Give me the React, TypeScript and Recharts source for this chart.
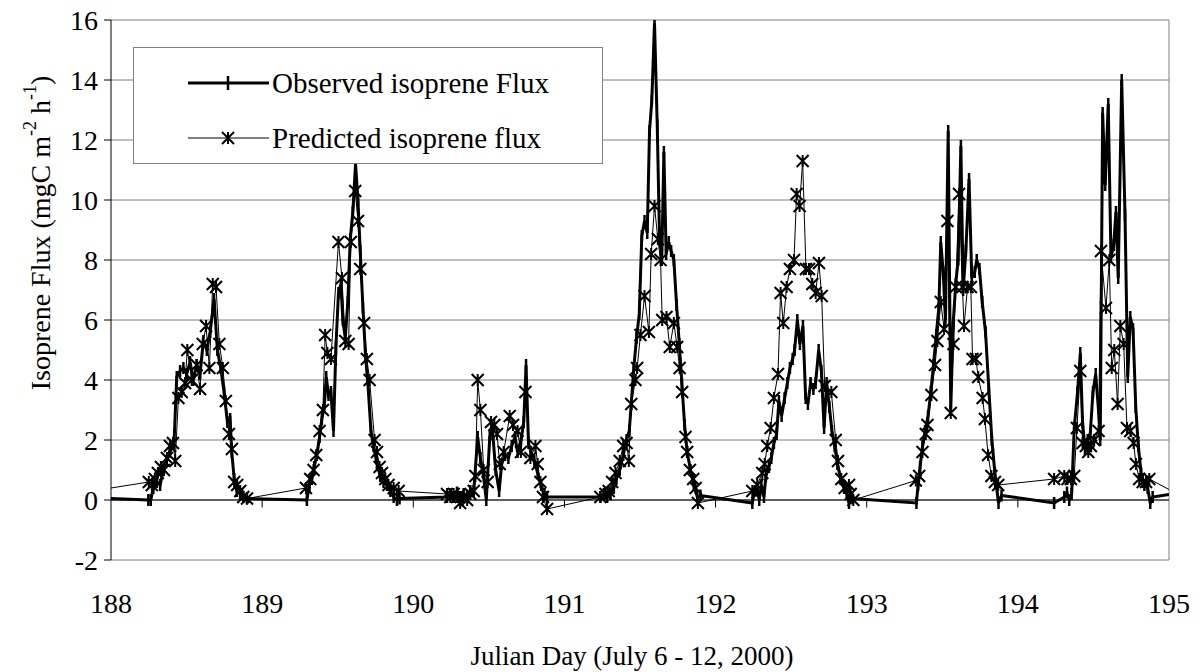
import React from 'react';
import { LineChart, Line, XAxis, YAxis, CartesianGrid, ReferenceLine } from 'recharts';

const obsDay = [
    188.0, 188.247, 188.263, 188.28, 188.303, 188.325, 188.347, 188.369, 188.39, 188.417, 188.435, 188.457, 188.479,
    188.501, 188.523, 188.545, 188.567, 188.589, 188.611, 188.634, 188.656, 188.682, 188.704, 188.726, 188.748, 188.77,
    188.788, 188.799, 188.815, 188.832, 188.854, 188.876, 188.899,
    189.296, 189.313, 189.329, 189.344, 189.362, 189.38, 189.395, 189.411, 189.424, 189.439, 189.455, 189.472, 189.488,
    189.505, 189.521, 189.534, 189.55, 189.567, 189.583, 189.6, 189.618, 189.634, 189.649, 189.667, 189.684, 189.702,
    189.72, 189.737, 189.76, 189.781, 189.803, 189.826, 189.848, 189.87, 189.892, 189.909,
    190.223, 190.245, 190.267, 190.289, 190.311, 190.333, 190.356, 190.377, 190.4, 190.426, 190.444, 190.462, 190.483,
    190.506, 190.523, 190.545, 190.568, 190.585, 190.607, 190.629, 190.651, 190.673, 190.69, 190.713, 190.731, 190.746,
    190.762, 190.779, 190.801, 190.823, 190.846, 190.868, 190.885,
    191.238, 191.26, 191.283, 191.305, 191.327, 191.344, 191.366, 191.389, 191.411, 191.429, 191.442, 191.459, 191.477,
    191.495, 191.512, 191.53, 191.548, 191.563, 191.578, 191.596, 191.614, 191.629, 191.644, 191.658, 191.673, 191.69,
    191.706, 191.724, 191.742, 191.76, 191.777, 191.795, 191.812, 191.834, 191.856, 191.879, 191.9,
    192.243, 192.258, 192.276, 192.289, 192.303, 192.32, 192.333, 192.353, 192.369, 192.386, 192.404, 192.419, 192.437,
    192.457, 192.475, 192.492, 192.51, 192.523, 192.541, 192.558, 192.578, 192.596, 192.611, 192.629, 192.647, 192.662,
    192.682, 192.7, 192.718, 192.735, 192.753, 192.77, 192.788, 192.806, 192.828, 192.85, 192.868, 192.883, 192.905,
    193.329, 193.34, 193.353, 193.369, 193.386, 193.406, 193.424, 193.442, 193.46, 193.477, 193.49, 193.506, 193.521,
    193.539, 193.556, 193.572, 193.589, 193.605, 193.623, 193.638, 193.656, 193.677, 193.695, 193.715, 193.728, 193.746,
    193.764, 193.786, 193.808, 193.828, 193.848, 193.872, 193.892,
    194.24, 194.307, 194.325, 194.34, 194.356, 194.373, 194.395, 194.413, 194.428, 194.444, 194.462, 194.479, 194.497,
    194.515, 194.532, 194.545, 194.561, 194.578, 194.598, 194.616, 194.634, 194.649, 194.664, 194.687, 194.709, 194.727,
    194.744, 194.762, 194.78, 194.797, 194.815, 194.837, 194.859, 194.876, 194.892, 195.0,
];
const obsFlux = [
    0.05, 0.0, 0.0, 0.4, 0.6, 0.5, 1.0, 1.3, 1.6, 1.9, 4.1, 4.3, 4.4,
    4.2, 4.6, 4.0, 4.5, 4.2, 5.3, 5.0, 5.6, 6.7, 5.0, 4.4, 3.6, 2.6,
    2.7, 1.6, 0.7, 0.3, 0.2, 0.1, 0.05,
    0.0, 0.5, 0.7, 1.1, 1.5, 2.1, 2.7, 3.1, 4.1, 3.5, 3.6, 2.3, 5.1,
    6.9, 7.2, 6.0, 5.4, 6.6, 8.7, 9.6, 11.2, 10.0, 8.3, 6.4, 4.8, 3.7,
    2.3, 1.8, 1.2, 0.8, 0.6, 0.5, 0.3, 0.1, 0.0, 0.05,
    0.1, 0.2, 0.1, 0.25, 0.1, 0.2, 0.15, 0.3, 0.3, 2.1, 1.4, 0.9, 0.0,
    2.1, 2.4, 1.0, 0.3, 1.2, 1.5, 1.4, 1.8, 2.1, 1.6, 2.0, 2.6, 4.5,
    1.9, 1.6, 1.3, 0.9, 0.5, 0.2, 0.1,
    0.1, 0.2, 0.1, 0.2, 0.4, 0.7, 1.0, 1.5, 2.0, 2.3, 3.2, 4.4, 5.4,
    6.2, 8.8, 9.3, 8.9, 12.3, 13.3, 15.9, 12.5, 8.8, 8.0, 11.6, 8.2, 8.6,
    8.3, 8.0, 6.5, 5.2, 3.9, 2.5, 1.6, 1.0, 0.5, 0.1, 0.15,
    -0.1, 0.3, 0.4, 0.0, 0.5, 0.1, 0.8, 1.1, 1.4, 1.9, 2.2, 3.3, 2.8,
    3.4, 3.9, 4.4, 4.7, 5.0, 6.0, 5.2, 5.8, 3.4, 3.2, 3.9, 3.7, 3.9,
    5.0, 4.3, 2.4, 3.9, 3.1, 2.3, 1.8, 1.2, 0.7, 0.4, 0.2, -0.1, 0.05,
    -0.1, 0.5, 1.1, 1.8, 2.3, 2.8, 3.6, 4.5, 5.5, 6.4, 8.6, 7.6, 6.0,
    12.3, 3.0, 5.9, 7.2, 8.0, 11.8, 7.0, 8.3, 10.7, 7.4, 7.6, 8.0, 7.7,
    6.6, 5.6, 3.7, 2.0, 0.9, -0.1, 0.15,
    -0.1, 0.1, 0.25, 0.0, 0.2, 2.4, 3.6, 4.9, 2.6, 1.7, 2.0, 2.2, 3.6,
    4.2, 3.1, 2.0, 12.9, 10.5, 13.2, 8.1, 8.5, 9.6, 7.4, 14.0, 9.5, 4.1,
    6.1, 5.7, 3.1, 1.8, 0.9, 0.5, 0.4, -0.1, 0.1, 0.18,
];

const predDay = [
    188.0, 188.25, 188.27, 188.29, 188.31, 188.33, 188.35, 188.37, 188.39, 188.41, 188.425, 188.446, 188.468,
    188.49, 188.505, 188.534, 188.567, 188.589, 188.607, 188.629, 188.651, 188.673, 188.695, 188.717, 188.74, 188.76,
    188.78, 188.8, 188.815, 188.835, 188.855, 188.875, 188.9,
    189.29, 189.318, 189.34, 189.358, 189.38, 189.402, 189.417, 189.432, 189.455, 189.505, 189.528, 189.55, 189.572,
    189.587, 189.616, 189.634, 189.649, 189.675, 189.693, 189.711, 189.744, 189.76, 189.777, 189.793, 189.815, 189.836,
    189.87, 189.903,
    190.223, 190.245, 190.267, 190.29, 190.31, 190.333, 190.356, 190.378, 190.4, 190.411, 190.426, 190.444, 190.466,
    190.492, 190.514, 190.536, 190.554, 190.572, 190.598, 190.638, 190.66, 190.69, 190.712, 190.742, 190.775, 190.808,
    190.823, 190.841, 190.858, 190.885,
    191.238, 191.272, 191.293, 191.316, 191.338, 191.366, 191.389, 191.411, 191.426, 191.442, 191.47, 191.481, 191.503,
    191.53, 191.559, 191.574, 191.596, 191.618, 191.636, 191.647, 191.675, 191.697, 191.724, 191.746, 191.762, 191.779,
    191.801, 191.812, 191.83, 191.852, 191.868, 191.883,
    192.243, 192.276, 192.309, 192.325, 192.342, 192.364, 192.386, 192.413, 192.43, 192.448, 192.47, 192.492, 192.519,
    192.536, 192.556, 192.576, 192.598, 192.618, 192.64, 192.662, 192.684, 192.702, 192.722, 192.766, 192.795, 192.81,
    192.832, 192.854, 192.883, 192.894, 192.912,
    193.325, 193.347, 193.369, 193.391, 193.402, 193.428, 193.452, 193.468, 193.49, 193.512, 193.534, 193.556, 193.574,
    193.589, 193.611, 193.633, 193.644, 193.667, 193.689, 193.7, 193.722, 193.738, 193.767, 193.782, 193.803, 193.825,
    193.848, 193.87,
    194.24, 194.307, 194.329, 194.351, 194.373, 194.391, 194.413, 194.428, 194.45, 194.466, 194.483, 194.505, 194.534,
    194.55, 194.583, 194.605, 194.621, 194.638, 194.66, 194.678, 194.7, 194.722, 194.744, 194.766, 194.781, 194.803,
    194.826, 194.848, 194.87, 195.0,
];
const predFlux = [
    0.4, 0.6, 0.5, 0.7, 0.9, 1.1, 1.0, 1.4, 1.8, 1.9, 1.3, 3.4, 3.6,
    3.9, 5.0, 4.0, 4.5, 3.7, 5.2, 5.8, 4.4, 7.2, 7.1, 5.2, 4.4, 3.3,
    2.2, 1.7, 0.6, 0.5, 0.3, 0.1, 0.05,
    0.4, 0.7, 1.0, 1.5, 2.3, 3.0, 5.5, 4.9, 4.7, 8.6, 7.4, 5.3, 5.2,
    8.6, 10.3, 9.3, 7.7, 5.9, 4.7, 4.0, 2.0, 1.6, 1.1, 0.9, 0.7, 0.5,
    0.4, 0.3,
    0.2, 0.1, 0.2, 0.1, -0.1, 0.1, 0.0, 0.2, 0.3, 0.8, 4.0, 3.0, 1.0,
    0.6, 2.6, 2.5, 2.2, 1.2, 1.6, 2.8, 2.5, 2.3, 1.6, 3.6, 1.4, 1.8,
    1.2, 0.6, 0.1, -0.3,
    0.1, 0.2, 0.3, 0.6, 0.9, 1.3, 1.8, 1.9, 1.3, 3.2, 4.0, 4.4, 5.5,
    6.8, 5.6, 8.2, 9.8, 8.7, 8.0, 6.0, 6.1, 5.1, 5.9, 5.1, 4.4, 3.6,
    2.1, 1.6, 1.0, 0.7, 0.4, -0.1,
    0.3, 0.5, 0.9, 1.2, 1.8, 2.4, 3.4, 4.2, 6.9, 5.9, 7.1, 7.7, 8.0,
    10.2, 9.8, 11.3, 7.7, 7.7, 7.2, 6.9, 7.9, 6.8, 3.8, 3.6, 2.0, 1.3,
    0.7, 0.4, 0.5, 0.2, 0.0,
    0.65, 0.8, 1.6, 2.2, 2.5, 3.5, 4.5, 5.3, 6.6, 5.7, 9.3, 2.9, 5.2,
    7.1, 10.2, 7.1, 5.8, 7.1, 7.1, 4.7, 4.7, 4.1, 3.4, 2.7, 1.5, 0.8,
    0.6, 0.5,
    0.7, 0.8, 0.7, 0.7, 0.8, 2.4, 4.3, 1.9, 1.8, 1.6, 1.8, 2.0, 2.3,
    8.3, 6.4, 8.0, 4.4, 5.0, 3.2, 5.8, 5.2, 2.4, 2.3, 1.9, 1.2, 0.7,
    0.6, 0.6, 0.7, 0.35,
];

const dayTicks = [188, 189, 190, 191, 192, 193, 194, 195];
const fluxTicks = [-2, 0, 2, 4, 6, 8, 10, 12, 14, 16];

const FONT = '"Liberation Serif", "Times New Roman", Times, serif';

const observed = obsDay.map((d, i) => ({ day: d, flux: obsFlux[i] }));
const predicted = predDay.map((d, i) => ({ day: d, flux: predFlux[i] }));

const insideDays = (day: number) => day > 188 && day < 195;

const ObsMark = (props: any) => {
    const { cx, cy, index, payload } = props;
    if (cx == null || cy == null || !insideDays(payload.day)) return <g key={`o-${index}`} />;
    return <line key={`o-${index}`} x1={cx} y1={cy - 6} x2={cx} y2={cy + 6} stroke="#000" strokeWidth={2.5} />;
};

const StarMark = (props: any) => {
    const { cx, cy, index, payload } = props;
    if (cx == null || cy == null || !insideDays(payload.day)) return <g key={`p-${index}`} />;
    const r = 6;
    return (
        <path
            key={`p-${index}`}
            d={`M${cx - r},${cy - r}L${cx + r},${cy + r}M${cx - r},${cy + r}L${cx + r},${cy - r}M${cx},${cy - r}L${cx},${cy + r}`}
            stroke="#000"
            strokeWidth={2}
            fill="none"
        />
    );
};

const YTitle = () => (
    <text
        transform="translate(40,233) rotate(-90)"
        textAnchor="middle"
        dominantBaseline="central"
        fontFamily={FONT}
        fontSize={28}
        fill="#000"
    >
        Isoprene Flux (mgC m<tspan dy={-10} fontSize={18}>-2</tspan>
        <tspan dy={10}> h</tspan>
        <tspan dy={-10} fontSize={18}>-1</tspan>
        <tspan dy={10}>)</tspan>
    </text>
);

const XTitle = () => (
    <text x={632} y={656} textAnchor="middle" dominantBaseline="central" fontFamily={FONT} fontSize={27} fill="#000">
        Julian Day (July 6 - 12, 2000)
    </text>
);

const LegendRow = ({ top, label, kind }: { top: number; label: string; kind: 'obs' | 'pred' }) => (
    <div style={{ position: 'absolute', left: 0, top: top - 20, height: 40, width: '100%' }}>
        <svg width={90} height={40} style={{ position: 'absolute', left: 52, top: 0 }}>
            {kind === 'obs' ? (
                <>
                    <line x1={2} y1={20} x2={83} y2={20} stroke="#000" strokeWidth={3} />
                    <line x1={42} y1={13} x2={42} y2={27} stroke="#000" strokeWidth={2.5} />
                </>
            ) : (
                <>
                    <line x1={2} y1={20} x2={83} y2={20} stroke="#000" strokeWidth={1} />
                    <path d="M36,14L48,26M36,26L48,14M42,14L42,26" stroke="#000" strokeWidth={2} />
                </>
            )}
        </svg>
        <span style={{ position: 'absolute', left: 138, top: 20, transform: 'translateY(-50%)', whiteSpace: 'nowrap', lineHeight: 1 }}>
            {label}
        </span>
    </div>
);

export default function App() {
    return (
        <div style={{ position: 'absolute', left: 0, top: 0, width: 1200, height: 672, background: '#fff', fontFamily: FONT }}>
            <style>{`.recharts-wrapper text { font-family: ${FONT}; }`}</style>
            <LineChart width={1200} height={672} margin={{ top: 20, right: 31, bottom: 52, left: 51 }}>
                <CartesianGrid vertical={false} stroke="#808080" strokeWidth={1} />
                <XAxis
                    dataKey="day"
                    type="number"
                    domain={[188, 195]}
                    ticks={dayTicks}
                    interval={0}
                    allowDataOverflow
                    height={60}
                    axisLine={false}
                    tickLine={false}
                    tickSize={0}
                    tickMargin={33}
                    tick={{ fill: '#000', fontSize: 28, fontFamily: FONT }}
                    label={<XTitle />}
                />
                <YAxis
                    type="number"
                    domain={[-2, 16]}
                    ticks={fluxTicks}
                    interval={0}
                    allowDataOverflow
                    width={60}
                    axisLine={{ stroke: '#000' }}
                    tickLine={{ stroke: '#000' }}
                    tickSize={7}
                    tickMargin={6}
                    tick={{ fill: '#000', fontSize: 28, fontFamily: FONT }}
                    label={<YTitle />}
                />
                <ReferenceLine x={195} stroke="#808080" />
                <ReferenceLine y={0} stroke="#000" />
                {dayTicks.slice(1, -1).map((d) => (
                    <ReferenceLine
                        key={d}
                        segment={[
                            { x: d, y: 0 },
                            { x: d, y: -0.25 },
                        ]}
                        stroke="#000"
                    />
                ))}
                <Line
                    data={observed}
                    dataKey="flux"
                    type="linear"
                    stroke="#000"
                    strokeWidth={3}
                    dot={ObsMark}
                    activeDot={false}
                    isAnimationActive={false}
                />
                <Line
                    data={predicted}
                    dataKey="flux"
                    type="linear"
                    stroke="#000"
                    strokeWidth={1}
                    dot={StarMark}
                    activeDot={false}
                    isAnimationActive={false}
                />
            </LineChart>
            <div
                style={{
                    position: 'absolute',
                    left: 133,
                    top: 47,
                    width: 470,
                    height: 117,
                    boxSizing: 'border-box',
                    border: '1px solid #808080',
                    background: '#fff',
                    fontFamily: FONT,
                    fontSize: 29,
                    color: '#000',
                }}
            >
                <LegendRow top={35} label="Observed isoprene Flux" kind="obs" />
                <LegendRow top={90} label="Predicted isoprene flux" kind="pred" />
            </div>
        </div>
    );
}
